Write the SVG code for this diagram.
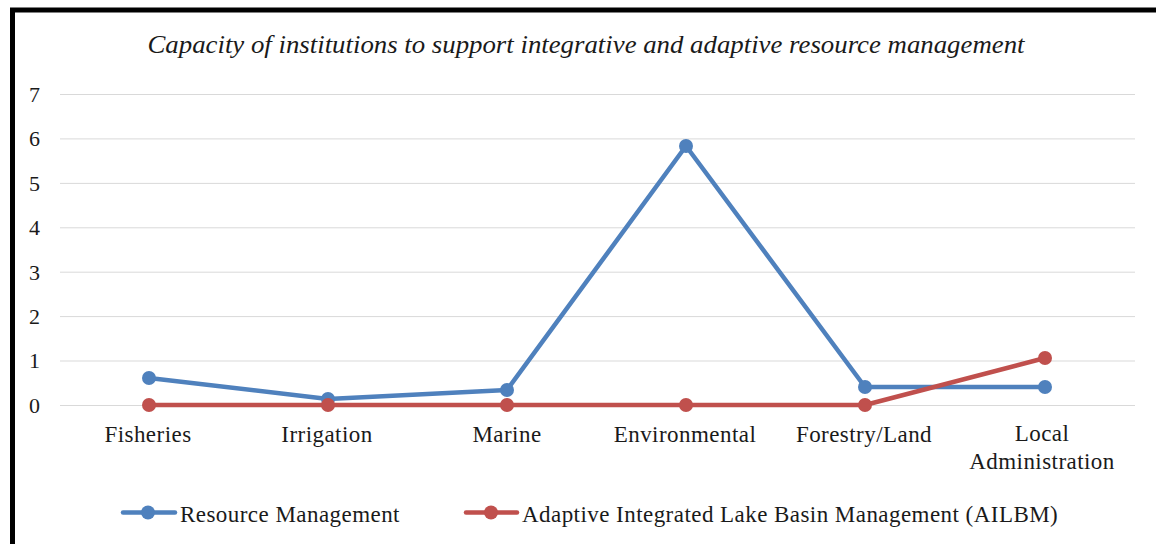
<svg xmlns="http://www.w3.org/2000/svg" width="1156" height="544" viewBox="0 0 1156 544">
<style>
text{font-family:"Liberation Serif","Times New Roman",serif;fill:#1a1a1a}
.t{font-size:25px;font-style:italic}
.lab{font-size:23px;letter-spacing:0.45px}
.y{font-size:22px;text-anchor:end}
.c{text-anchor:middle}
.grid line{stroke:#d9d9d9;stroke-width:1}
.blue{stroke:#4f81bd;fill:none;stroke-width:4.5;stroke-linejoin:round;stroke-linecap:round}
.red{stroke:#c0504d;fill:none;stroke-width:4.5;stroke-linejoin:round;stroke-linecap:round}
.bm{fill:#4f81bd}
.rm{fill:#c0504d}
</style>
<rect x="0" y="0" width="1156" height="544" fill="#fff"/>
<path d="M12.5 544 V10 H1156" fill="none" stroke="#000" stroke-width="5"/>
<text class="t" x="586" y="53" text-anchor="middle" textLength="877" lengthAdjust="spacingAndGlyphs">Capacity of institutions to support integrative and adaptive resource management</text>
<g class="grid">
<line x1="60" y1="94.5" x2="1135" y2="94.5"/>
<line x1="60" y1="138.9" x2="1135" y2="138.9"/>
<line x1="60" y1="183.4" x2="1135" y2="183.4"/>
<line x1="60" y1="227.8" x2="1135" y2="227.8"/>
<line x1="60" y1="272.2" x2="1135" y2="272.2"/>
<line x1="60" y1="316.6" x2="1135" y2="316.6"/>
<line x1="60" y1="361" x2="1135" y2="361"/>
<line x1="60" y1="405.5" x2="1135" y2="405.5"/>
</g>
<g id="yaxis">
<text class="y" x="40" y="102">7</text>
<text class="y" x="40" y="146">6</text>
<text class="y" x="40" y="191">5</text>
<text class="y" x="40" y="235">4</text>
<text class="y" x="40" y="280">3</text>
<text class="y" x="40" y="324">2</text>
<text class="y" x="40" y="368">1</text>
<text class="y" x="40" y="413">0</text>
</g>
<g id="xaxis">
<text class="lab c" x="148" y="442">Fisheries</text>
<text class="lab c" x="327" y="442">Irrigation</text>
<text class="lab c" x="507" y="442">Marine</text>
<text class="lab c" x="685" y="442">Environmental</text>
<text class="lab c" x="864" y="442">Forestry/Land</text>
<text class="lab c" x="1042" y="441">Local</text>
<text class="lab c" x="1042" y="469">Administration</text>
</g>
<g id="connectors">
<polyline class="blue" points="149,378 328,399 507,390 686,146 865,387 1045,387"/>
<polyline class="red" points="149,405 328,405 507,405 686,405 865,405 1045,358"/>
</g>
<g id="series-resource-management">
<circle class="bm" cx="149" cy="378" r="7"/>
<circle class="bm" cx="328" cy="399" r="7"/>
<circle class="bm" cx="507" cy="390" r="7"/>
<circle class="bm" cx="686" cy="146" r="7"/>
<circle class="bm" cx="865" cy="387" r="7"/>
<circle class="bm" cx="1045" cy="387" r="7"/>
</g>
<g id="series-ailbm">
<circle class="rm" cx="149" cy="405" r="7"/>
<circle class="rm" cx="328" cy="405" r="7"/>
<circle class="rm" cx="507" cy="405" r="7"/>
<circle class="rm" cx="686" cy="405" r="7"/>
<circle class="rm" cx="865" cy="405" r="7"/>
<circle class="rm" cx="1045" cy="358" r="7"/>
</g>
<g id="legend">
<line class="blue" x1="123" y1="512.5" x2="175" y2="512.5"/>
<circle class="bm" cx="148" cy="512.5" r="7"/>
<text class="lab" x="180" y="522">Resource Management</text>
<line class="red" x1="466" y1="512.5" x2="517" y2="512.5"/>
<circle class="rm" cx="491" cy="512.5" r="7"/>
<text class="lab" x="522" y="522">Adaptive Integrated Lake Basin Management (AILBM)</text>
</g>
</svg>
